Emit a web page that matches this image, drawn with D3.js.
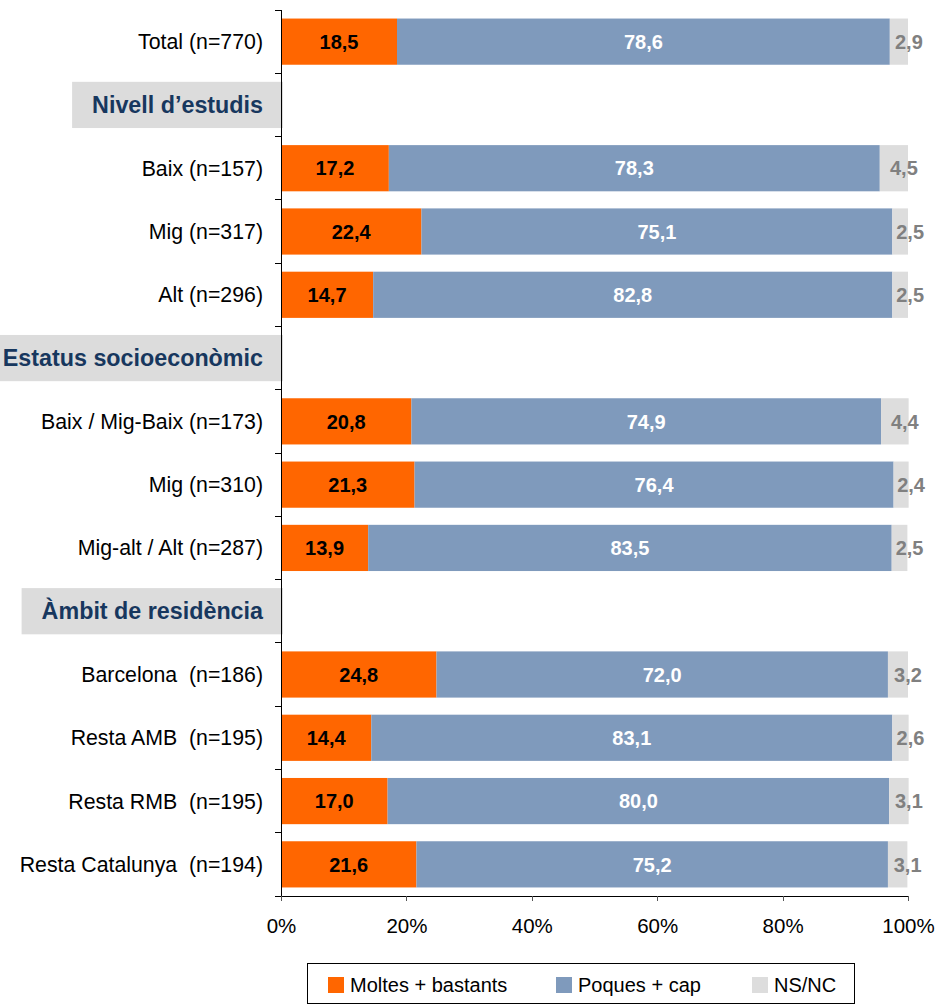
<!DOCTYPE html>
<html>
<head>
<meta charset="utf-8">
<script src="https://cdn.jsdelivr.net/npm/d3@7"></script>
<style>
  body { margin: 0; background: #fff; }
  svg { display: block; font-family: "Liberation Sans", Arial, sans-serif; }
  text { white-space: pre; }
</style>
</head>
<body>
<svg id="svg" width="935" height="1004"></svg>
<script>
const width = 935;
const height = 1004;

const rows = [
	'Total (n=770)', 'Nivell d’estudis', 'Baix (n=157)', 'Mig (n=317)', 'Alt (n=296)',
	'Estatus socioeconòmic', 'Baix / Mig-Baix (n=173)', 'Mig (n=310)', 'Mig-alt / Alt (n=287)',
	'Àmbit de residència', 'Barcelona  (n=186)', 'Resta AMB  (n=195)', 'Resta RMB  (n=195)',
	'Resta Catalunya  (n=194)'
];
const headerRows = [1, 5, 9];
const moltes = [18.5, null, 17.2, 22.4, 14.7, null, 20.8, 21.3, 13.9, null, 24.8, 14.4, 17.0, 21.6];
const poques = [78.6, null, 78.3, 75.1, 82.8, null, 74.9, 76.4, 83.5, null, 72.0, 83.1, 80.0, 75.2];
const nsnc = [2.9, null, 4.5, 2.5, 2.5, null, 4.4, 2.4, 2.5, null, 3.2, 2.6, 3.1, 3.1];
const seriesNames = ['Moltes + bastants', 'Poques + cap', 'NS/NC'];
const seriesColors = ['#ff6600', '#7f9abc', '#dddddd'];
const labelColors = ['#000', '#fff', '#808080'];
const xTicks = [0, 20, 40, 60, 80, 100];

const plot = { left: 281, right: 908, top: 10, bottom: 896 };
const fmt = v => v.toFixed(1).replace('.', ',');

const svg = d3.select('#svg');

const x = d3.scaleLinear().domain([0, 100]).range([plot.left, plot.right]);
const y = d3.scaleBand()
	.domain(d3.range(rows.length))
	.range([plot.top, plot.bottom])
	.paddingInner(0.27)
	.paddingOuter(0.135);

// stacked data for normal rows
const stackRows = d3.range(rows.length)
	.filter(i => !headerRows.includes(i))
	.map(i => ({ i, values: [moltes[i], poques[i], nsnc[i]] }));

// header boxes
headerRows.forEach(i => {
	const g = svg.append('g');
	const t = g.append('text')
		.attr('x', 263)
		.attr('y', y(i) + y.bandwidth() / 2)
		.attr('dy', '0.35em')
		.attr('text-anchor', 'end')
		.attr('font-size', 23.3)
		.attr('font-weight', 'bold')
		.attr('fill', '#17375e')
		.text(rows[i]);
	const bb = t.node().getBBox();
	g.insert('rect', 'text')
		.attr('x', bb.x - 20)
		.attr('y', y(i))
		.attr('width', 283 - (bb.x - 20))
		.attr('height', y.bandwidth())
		.attr('fill', '#dcdcdc');
});

// category labels
svg.append('g').selectAll('text')
	.data(stackRows)
	.join('text')
	.attr('x', 263)
	.attr('y', d => y(d.i) + y.bandwidth() / 2)
	.attr('dy', '0.35em')
	.attr('text-anchor', 'end')
	.attr('font-size', 21.3)
	.attr('fill', '#000')
	.text(d => rows[d.i]);

// bars
const rowG = svg.append('g').selectAll('g')
	.data(stackRows)
	.join('g');

rowG.each(function(d) {
	let acc = 0;
	const g = d3.select(this);
	d.values.forEach((v, k) => {
		const x0 = acc;
		acc += v;
		g.append('rect')
			.attr('x', x(x0))
			.attr('y', y(d.i))
			.attr('width', x(acc) - x(x0))
			.attr('height', y.bandwidth())
			.attr('fill', seriesColors[k]);
		const cx = (x(x0) + x(acc)) / 2 + (k === 2 ? 10 : 0);
		g.append('text')
			.attr('x', cx)
			.attr('y', y(d.i) + y.bandwidth() / 2)
			.attr('dy', '0.36em')
			.attr('text-anchor', 'middle')
			.attr('font-size', 20)
			.attr('font-weight', 'bold')
			.attr('fill', labelColors[k])
			.text(fmt(v));
	});
});

// left axis with ticks at band boundaries
const gap = (y.step() - y.bandwidth()) / 2;
const yAxis = svg.append('g');
yAxis.append('line')
	.attr('x1', plot.left).attr('x2', plot.left)
	.attr('y1', plot.top).attr('y2', plot.bottom)
	.attr('stroke', '#000')
	.attr('shape-rendering', 'crispedges');
yAxis.selectAll('.tick')
	.data(d3.range(rows.length + 1))
	.join('line')
	.attr('class', 'tick')
	.attr('x1', plot.left - 6).attr('x2', plot.left)
	.attr('y1', i => i < rows.length ? y(i) - gap : plot.bottom)
	.attr('y2', i => i < rows.length ? y(i) - gap : plot.bottom)
	.attr('stroke', '#000')
	.attr('shape-rendering', 'crispedges');

// bottom axis
const xAxis = svg.append('g')
	.attr('transform', 'translate(0,' + plot.bottom + ')')
	.call(d3.axisBottom(x).tickValues(xTicks).tickFormat(d => d + '%').tickSize(5).tickPadding(17));
xAxis.select('.domain').attr('stroke', '#000').attr('shape-rendering', 'crispedges');
xAxis.selectAll('.tick line').attr('stroke', '#555').attr('shape-rendering', 'crispedges');
xAxis.selectAll('.tick text')
	.attr('font-size', 20.5)
	.attr('font-family', '"Liberation Sans", Arial, sans-serif')
	.attr('fill', '#000');

// legend
const legend = svg.append('g');
legend.append('rect')
	.attr('x', 307.5).attr('y', 963.5)
	.attr('width', 547).attr('height', 40)
	.attr('fill', '#fff')
	.attr('stroke', '#000');
const legendX = [328, 556, 752];
seriesNames.forEach((name, k) => {
	legend.append('rect')
		.attr('x', legendX[k]).attr('y', 977)
		.attr('width', 16).attr('height', 16)
		.attr('fill', seriesColors[k]);
	legend.append('text')
		.attr('x', legendX[k] + 22)
		.attr('y', 985)
		.attr('dy', '0.35em')
		.attr('font-size', 20)
		.attr('fill', '#000')
		.text(name);
});
</script>
</body>
</html>
